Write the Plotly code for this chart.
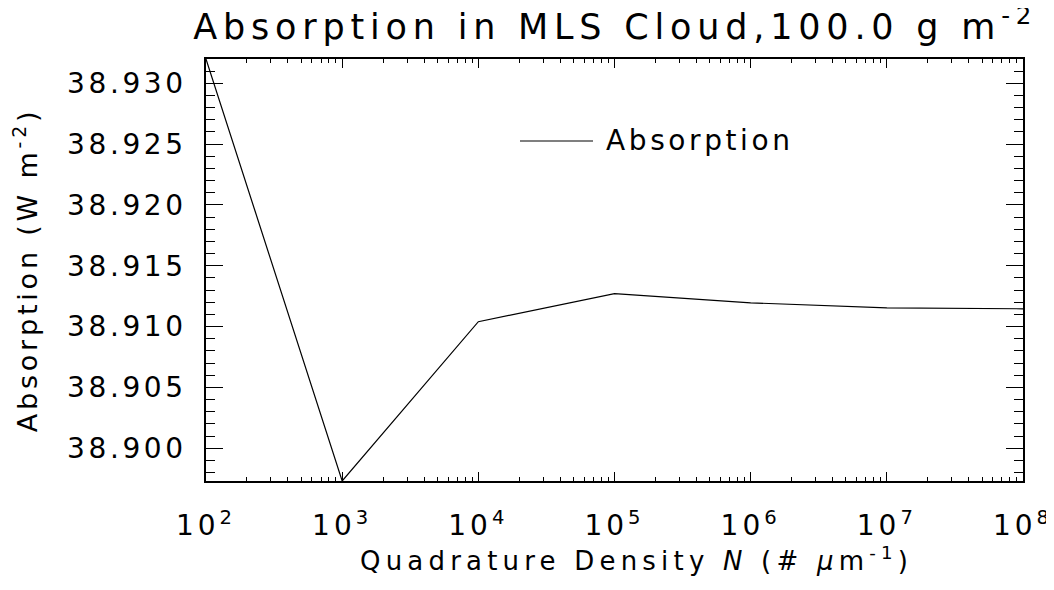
import plotly.graph_objects as go

# Data
density = [1e2, 1e3, 1e4, 1e5, 1e6, 1e7, 1e8]
absorption = [38.9320, 38.8973, 38.9104, 38.9127, 38.91195, 38.91154, 38.91146]
xtick_vals = [1e2, 1e3, 1e4, 1e5, 1e6, 1e7, 1e8]
xtick_exp = ["2", "3", "4", "5", "6", "7", "8"]
ytick_vals = [38.900, 38.905, 38.910, 38.915, 38.920, 38.925, 38.930]
series_name = "Absorption"
x_title = "Quadrature Density <i>N</i> (# <i>μ</i>m<sup>-1</sup>)"
y_title = "Absorption (W m<sup>-2</sup>)"
main_title = "Absorption in MLS Cloud,100.0 g m<sup>-2</sup>"

FONT = "DejaVu Sans"


def sp(text, px):
    return f'<span style="letter-spacing:{px}px">{text}</span>'


xtick_text = [sp(f"10<sup>{e}</sup>", 4) for e in xtick_exp]
ytick_text = [sp(f"{v:.3f}", 3.6) for v in ytick_vals]

fig = go.Figure()
fig.add_trace(go.Scatter(x=density, y=absorption, mode="lines", name=series_name,
                         line=dict(color="black", width=1.2), showlegend=False))

fig.update_layout(
    width=1038, height=574,
    margin=dict(l=198, r=23, t=51, b=101, autoexpand=False),
    paper_bgcolor="white", plot_bgcolor="white",
    font=dict(family=FONT, color="black"),
    title=dict(text=sp(main_title, 5.8),
               x=0.585, xanchor="center", y=0.968, yanchor="middle",
               font=dict(size=35, family=FONT, color="black")),
)

fig.update_xaxes(
    type="log", range=[2, 8], automargin=False,
    tickvals=xtick_vals, ticktext=xtick_text, ticklabeloverflow="allow",
    ticks="inside", ticklen=9, tickwidth=1, tickcolor="black",
    minor=dict(ticks="inside", ticklen=4, tickwidth=1, tickcolor="black", dtick="D1"),
    showline=True, linecolor="black", linewidth=1.5, mirror="allticks",
    showgrid=False, zeroline=False,
    tickfont=dict(size=28, family=FONT), ticklabelstandoff=19,
)
fig.update_yaxes(
    range=[38.8973, 38.9320], automargin=False,
    tickvals=ytick_vals, ticktext=ytick_text,
    ticks="inside", ticklen=17, tickwidth=1, tickcolor="black",
    minor=dict(ticks="inside", ticklen=9, tickwidth=1, tickcolor="black", dtick=0.001, tick0=38.9),
    showline=True, linecolor="black", linewidth=1.5, mirror="allticks",
    showgrid=False, zeroline=False,
    tickfont=dict(size=28, family=FONT), ticklabelstandoff=12,
    title=dict(text=sp(y_title, 3.8), font=dict(size=27, family=FONT), standoff=22),
)

# X-axis title (placed as in the reference, slightly right of centre)
fig.add_annotation(xref="paper", yref="paper", x=0.5275, y=-0.185, xanchor="center", yanchor="middle",
                   text=sp(x_title, 5.2), showarrow=False, font=dict(size=26, family=FONT, color="black"))

# Legend-style key drawn inside the plot area
fig.add_shape(type="line", xref="paper", yref="paper", x0=0.3843, x1=0.4737, y0=0.8057, y1=0.8057,
              line=dict(color="black", width=1.2))
fig.add_annotation(xref="paper", yref="paper", x=0.4872, y=0.8057, xanchor="left", yanchor="middle",
                   text=sp(series_name, 3.6), showarrow=False, font=dict(size=28, family=FONT, color="black"))

fig.write_html("out.html")
